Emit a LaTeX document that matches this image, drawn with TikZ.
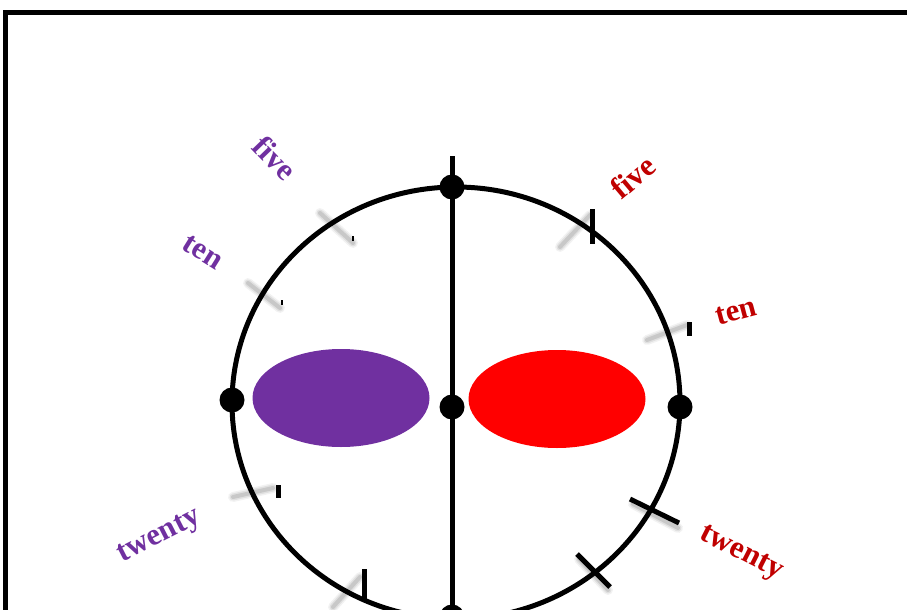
\documentclass[tikz,border=0pt]{standalone}
\usepackage{fontspec}
\setmainfont{Liberation Serif}
\usepackage{tikz}
\usetikzlibrary{shapes.geometric}
\definecolor{lobeP}{HTML}{7030A0}
\definecolor{lobeR}{HTML}{FF0000}
\definecolor{txtR}{HTML}{C00000}

\begin{document}
\begin{tikzpicture}[x=1pt,y=-1pt,
  dot/.style={circle,fill=black,inner sep=0pt,minimum size=25pt},
  lbl/.style={font=\bfseries\fontsize{31}{33}\selectfont,inner sep=0pt},
  lobe/.style={ellipse,inner sep=0pt,minimum width=177pt,minimum height=98pt},
  bar/.style={line width=5pt},
  tickline/.style={line width=5pt}]
  \useasboundingbox (0,0) rectangle (907,610);
  \clip (0,0) rectangle (907,610);
  % frame
  \draw[line width=5pt] (5,620) -- (5,12.5) -- (910,12.5);
  % blurred shadows of the ticks
  \foreach \ax/\ay/\bx/\by in {320/213/353/243, 248/283/280/308, 560/247/590/215, 647/340/687/325, 233/497/273/488, 333/607/360/577, 633/504/678/528, 579/559/608/590}{
    \foreach \w/\o in {10/.1,7/.16,4/.25}{\draw[line width=\w pt,gray,opacity=\o,line cap=round] (\ax,\ay) -- (\bx,\by);}
  }
  % lobes
  \node[lobe,fill=lobeP] (lobeL) at (341,398) {};
  \node[lobe,fill=lobeR] (lobeR) at (557,399) {};
  % circle and axis
  \draw[line width=5pt] (456,403) ellipse [x radius=224, y radius=216];
  \node[dot] (dtop) at (452,187) {};
  \node[dot] (dleft) at (232,400) {};
  \node[dot] (dmid) at (452,407) {};
  \node[dot] (dright) at (680,407) {};
  \node[dot] (dbot) at (452,617) {};
  \coordinate (axtop) at (452,156);
  \draw[line width=5pt] (axtop) -- (dbot.center);
  % ticks
  \foreach \x/\ya/\yb in {592/209/244, 689/322/336, 278/485/498, 364/569/599}{\draw[bar] (\x,\ya) -- (\x,\yb);}
  \draw[line width=2pt] (353,236) -- (353,241);
  \draw[line width=1.5pt] (282,300) -- (282,305);
  \draw[tickline] (630,499) -- (679,523);
  \draw[tickline] (577,554) -- (610,587);
  % labels
  \node[lbl,text=lobeP,rotate=-46] (fiveL) at (275,158) {five};
  \node[lbl,text=lobeP,rotate=-32] (tenL) at (203,252) {ten};
  \node[lbl,text=lobeP,rotate=27] (twentyL) at (160,537) {twenty};
  \node[lbl,text=txtR,rotate=40] (fiveR) at (633,177) {five};
  \node[lbl,text=txtR,rotate=15] (tenR) at (736,312) {ten};
  \node[lbl,text=txtR,rotate=-27] (twentyR) at (741,554) {twenty};
\end{tikzpicture}
\end{document}
